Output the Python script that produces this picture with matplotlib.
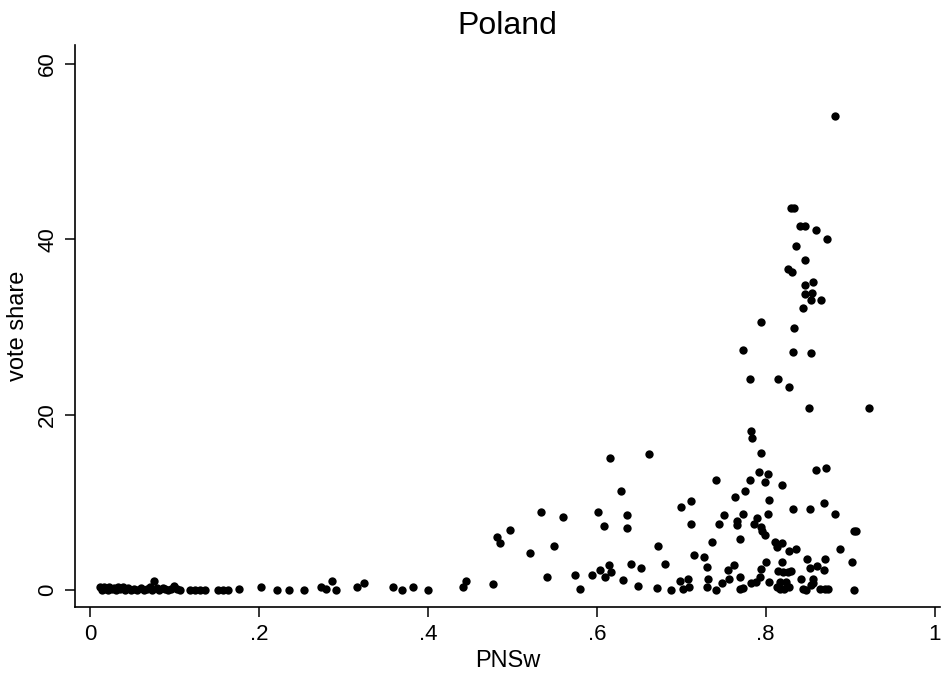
import matplotlib
matplotlib.use("Agg")
from matplotlib import pyplot as plt

# values (PNSw, vote share)
pnsw = [
    # low cluster near zero
    0.012, 0.014, 0.016, 0.019, 0.021, 0.023, 0.026, 0.028, 0.031, 0.033,
    0.036, 0.039, 0.042, 0.045, 0.048, 0.052, 0.056, 0.060, 0.064, 0.068,
    0.071, 0.073, 0.076, 0.079, 0.082, 0.086, 0.089, 0.092, 0.096, 0.100,
    0.103, 0.107,
    0.118, 0.124, 0.130, 0.136, 0.151, 0.157, 0.163, 0.176, 0.203, 0.221,
    0.236, 0.253, 0.274, 0.280, 0.287, 0.291, 0.316, 0.324, 0.359, 0.369,
    0.383, 0.400, 0.442, 0.445, 0.477,
    # middle
    0.629, 0.534, 0.560, 0.602, 0.636, 0.700, 0.712, 0.711, 0.497, 0.482,
    0.486, 0.609, 0.636, 0.521, 0.549, 0.672, 0.715, 0.681, 0.641, 0.652,
    0.615, 0.604, 0.617, 0.610, 0.594, 0.574, 0.541, 0.631, 0.580, 0.649,
    0.671, 0.688, 0.698, 0.708, 0.702, 0.709, 0.616, 0.662,
    # right part, lower
    0.922, 0.782, 0.784, 0.794, 0.792, 0.803, 0.741, 0.781, 0.799, 0.819,
    0.859, 0.871, 0.776, 0.764, 0.804, 0.832, 0.853, 0.869, 0.882, 0.803,
    0.773, 0.751, 0.745, 0.766, 0.766, 0.786, 0.790, 0.795, 0.796, 0.799,
    0.905, 0.907, 0.737, 0.769, 0.811, 0.819, 0.813, 0.836, 0.827, 0.888,
    0.727, 0.849, 0.870, 0.800, 0.819, 0.902, 0.731, 0.762, 0.755, 0.794,
    0.815, 0.820, 0.826, 0.830, 0.852, 0.861, 0.869, 0.842, 0.856, 0.856,
    0.732, 0.757, 0.770, 0.793, 0.783, 0.789, 0.804, 0.817, 0.824, 0.813,
    0.817, 0.822, 0.828, 0.748, 0.741, 0.731, 0.770, 0.773, 0.844, 0.848,
    0.854, 0.864, 0.870, 0.874, 0.905,
    # right part, upper
    0.882, 0.830, 0.833, 0.841, 0.847, 0.859, 0.873, 0.836, 0.847, 0.826,
    0.831, 0.847, 0.856, 0.847, 0.855, 0.854, 0.866, 0.844, 0.795, 0.834,
    0.773, 0.832, 0.854, 0.781, 0.815, 0.828, 0.851,
]
vote_share = [
    0.3, 0.05, 0.4, 0.15, 0.0, 0.35, 0.1, 0.25, 0.0, 0.4,
    0.15, 0.3, 0.05, 0.2, 0.0, 0.1, 0.0, 0.2, 0.05, 0.15,
    0.3, 0.0, 1.06, 0.2, 0.05, 0.25, 0.1, 0.0, 0.15, 0.5,
    0.1, 0.0,
    0.0, 0.0, 0.0, 0.0, 0.0, 0.05, 0.05, 0.15, 0.3, 0.0,
    0.0, 0.0, 0.3, 0.1, 1.06, 0.0, 0.3, 0.76, 0.3, 0.0,
    0.3, 0.0, 0.38, 1.06, 0.65,
    11.3, 8.9, 8.35, 8.85, 8.6, 9.5, 10.1, 7.5, 6.9, 6.0,
    5.4, 7.3, 7.1, 4.25, 5.05, 5.0, 4.0, 3.0, 3.0, 2.5,
    2.8, 2.3, 2.0, 1.45, 1.7, 1.7, 1.5, 1.2, 0.15, 0.5,
    0.26, 0.0, 1.0, 1.3, 0.1, 0.3, 15.1, 15.5,
    20.8, 18.1, 17.3, 15.6, 13.4, 13.2, 12.6, 12.5, 12.3, 12.0,
    13.7, 13.9, 11.3, 10.6, 10.25, 9.2, 9.2, 9.95, 8.7, 8.65,
    8.7, 8.5, 7.5, 7.9, 7.4, 7.5, 8.2, 7.2, 6.75, 6.3,
    6.75, 6.75, 5.5, 5.8, 5.5, 5.4, 4.9, 4.7, 4.4, 4.7,
    3.8, 3.5, 3.5, 3.15, 3.15, 3.2, 2.65, 2.8, 2.3, 2.35,
    2.2, 2.1, 2.1, 2.2, 2.5, 2.75, 2.3, 1.3, 1.3, 0.8,
    1.3, 1.25, 1.5, 1.5, 0.76, 0.95, 0.95, 0.95, 0.95, 0.38,
    0.08, 0.08, 0.38, 0.76, 0.0, 0.38, 0.08, 0.2, 0.08, 0.0,
    0.57, 0.08, 0.08, 0.08, 0.0,
    54.0, 43.5, 43.6, 41.5, 41.5, 41.0, 40.0, 39.2, 37.6, 36.6,
    36.3, 34.8, 35.1, 33.8, 33.9, 33.1, 33.1, 32.1, 30.5, 29.9,
    27.4, 27.1, 27.0, 24.1, 24.1, 23.1, 20.7,
]

x_ticks = [0, 0.2, 0.4, 0.6, 0.8, 1]
x_tick_labels = ["0", ".2", ".4", ".6", ".8", "1"]
y_ticks = [0, 20, 40, 60]

plt.rcParams['font.family'] = ['Liberation Sans', 'DejaVu Sans']

fig = plt.figure(figsize=(9.43, 6.76), dpi=100)
ax = fig.add_axes([0.0795, 0.102, 0.917, 0.831])

ax.scatter(pnsw, vote_share, s=36, c='black', linewidths=0)

ax.set_xlim(-0.0178, 1.006)
ax.set_ylim(-1.94, 62.1)
ax.set_xticks(x_ticks)
ax.set_xticklabels(x_tick_labels)
ax.set_yticks(y_ticks)
ax.set_yticklabels([str(v) for v in y_ticks], rotation=90, va='center')

for side in ['top', 'right']:
    ax.spines[side].set_visible(False)
for side in ['left', 'bottom']:
    ax.spines[side].set_linewidth(1.2)
ax.tick_params(axis='both', length=7, width=1.1, labelsize=16, pad=5)

ax.set_xlabel("PNSw", fontsize=17, labelpad=4)
ax.set_ylabel("vote share", fontsize=17, labelpad=6)
ax.set_title("Poland", fontsize=23, pad=8)

fig.savefig("out.png", dpi=100)
